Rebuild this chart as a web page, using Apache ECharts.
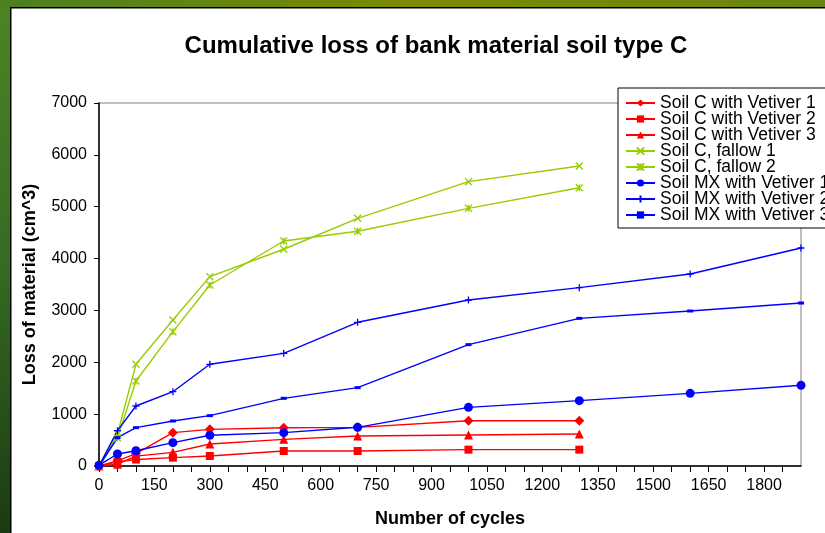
<!DOCTYPE html>
<html>
<head>
<meta charset="utf-8">
<script src="https://cdn.jsdelivr.net/npm/echarts@6/dist/echarts.min.js"></script>
<style>html,body{margin:0;padding:0;background:#fff}#c{width:825px;height:533px}</style>
</head>
<body>
<div id="c"></div>
<script>
const cycles = [0, 50, 100, 200, 300, 500, 700, 1000, 1300, 1600, 1900];
const seriesNames = ['Soil C with Vetiver 1','Soil C with Vetiver 2','Soil C with Vetiver 3','Soil C, fallow 1','Soil C, fallow 2','Soil MX with Vetiver 1','Soil MX with Vetiver 2','Soil MX with Vetiver 3'];
const cV1 = [0, 100, 240, 643, 707, 739, 745, 874, 874];
const cV2 = [0, 80, 125, 161, 193, 289, 289, 315, 315];
const cV3 = [0, 35, 190, 263, 424, 514, 578, 598, 617];
const fallow1 = [0, 620, 1961, 2815, 3651, 4180, 4776, 5483, 5785];
const fallow2 = [0, 540, 1639, 2590, 3490, 4339, 4526, 4969, 5366];
const mx1 = [15, 231, 295, 450, 592, 643, 746, 1131, 1260, 1401, 1556];
const mx2 = [0, 681, 1157, 1433, 1961, 2172, 2771, 3201, 3439, 3702, 4204];
const mx3 = [0, 546, 739, 868, 971, 1305, 1511, 2340, 2847, 2989, 3143];
const yTicks = {min: 0, max: 7000, interval: 1000};
const xTicks = {min: 0, max: 1900, interval: 50, labelEvery: 150};

const RED = '#FF0000', GREEN = '#99CC00', BLUE = '#0000FF';
const FONT = '"Liberation Sans", Arial, sans-serif';
function pairs(vals){ return vals.map((v,i)=>[cycles[i], v]); }

const styles = [
  {color: RED, symbol: 'diamond', size: 10},
  {color: RED, symbol: 'rect', size: 8},
  {color: RED, symbol: 'triangle', size: 9},
  {color: GREEN, symbol: 'path://M0,0L10,10M10,0L0,10', size: 7, stroke: true},
  {color: GREEN, symbol: 'path://M0,0L10,10M10,0L0,10M5,0L5,10', size: 7, stroke: true},
  {color: BLUE, symbol: 'circle', size: 9},
  {color: BLUE, symbol: 'path://M5,0L5,10M0,5L10,5', size: 7, stroke: true},
  {color: BLUE, symbol: 'path://M0,0L10,0L10,5L0,5Z', size: [6, 3]}
];
const data = [cV1, cV2, cV3, fallow1, fallow2, mx1, mx2, mx3];

const series = data.map((d, i) => {
  const s = styles[i];
  return {
    name: seriesNames[i],
    type: 'line',
    data: pairs(d),
    symbol: s.symbol,
    symbolSize: s.size,
    showAllSymbol: true,
    animation: false,
    lineStyle: {color: s.color, width: 1.4},
    itemStyle: s.stroke ? {color: s.color, borderColor: s.color, borderWidth: 1.3} : {color: s.color, borderWidth: 0}
  };
});

const chart = echarts.init(document.getElementById('c'));
chart.setOption({
  backgroundColor: '#ffffff',
  animation: false,
  title: {
    text: 'Cumulative loss of bank material soil type C',
    left: 431, top: 29, textAlign: 'center',
    textStyle: {fontFamily: FONT, fontSize: 24, fontWeight: 'bold', color: '#000'}
  },
  grid: {left: 99, top: 103, right: 24, bottom: 67, show: true, borderColor: '#808080', borderWidth: 1, backgroundColor: '#fff'},
  legend: {
    orient: 'vertical', left: 618, top: 88,
    padding: [6, 7, 4, 7], itemGap: -2, itemWidth: 29, itemHeight: 9,
    backgroundColor: '#fff', borderColor: '#000', borderWidth: 1,
    textStyle: {fontFamily: FONT, fontSize: 17.5, color: '#000'},
    data: seriesNames
  },
  xAxis: {
    type: 'value', min: xTicks.min, max: xTicks.max, interval: xTicks.interval,
    name: 'Number of cycles', nameLocation: 'middle', nameGap: 44,
    nameTextStyle: {fontFamily: FONT, fontSize: 18, fontWeight: 'bold', color: '#000'},
    axisLine: {show: true, onZero: false, lineStyle: {color: '#000', width: 1.5}},
    axisTick: {show: true, inside: false, length: 6, lineStyle: {color: '#000', width: 1}},
    axisLabel: {fontFamily: FONT, fontSize: 16, color: '#000', margin: 12, showMaxLabel: false,
      formatter: v => (v % xTicks.labelEvery === 0 ? String(v) : '')},
    splitLine: {show: false}
  },
  yAxis: {
    type: 'value', min: yTicks.min, max: yTicks.max, interval: yTicks.interval,
    name: 'Loss of material (cm^3)', nameLocation: 'middle', nameGap: 60, nameRotate: 90,
    nameTextStyle: {fontFamily: FONT, fontSize: 18, fontWeight: 'bold', color: '#000'},
    axisLine: {show: true, lineStyle: {color: '#000', width: 1.5}},
    axisTick: {show: true, inside: false, length: 5, lineStyle: {color: '#000', width: 1}},
    axisLabel: {fontFamily: FONT, fontSize: 16, color: '#000', margin: 12, formatter: v => String(v)},
    splitLine: {show: false}
  },
  graphic: [
    {type: 'rect', left: 0, top: 0, z: 100, shape: {x: 0, y: 0, width: 10, height: 533},
      style: {fill: new echarts.graphic.LinearGradient(0, 0, 0, 1, [{offset: 0, color: '#4e8424'}, {offset: 0.5, color: '#356b22'}, {offset: 1, color: '#1b3a12'}])}},
    {type: 'rect', left: 0, top: 0, z: 100, shape: {x: 0, y: 0, width: 825, height: 7},
      style: {fill: new echarts.graphic.LinearGradient(0, 0, 1, 0, [{offset: 0, color: '#4a7f22'}, {offset: 0.5, color: '#7c8a02'}, {offset: 1, color: '#6a8512'}])}},
    {type: 'line', z: 100, shape: {x1: 10.75, y1: 7, x2: 10.75, y2: 533}, style: {stroke: '#000', lineWidth: 1.5}},
    {type: 'line', z: 100, shape: {x1: 10, y1: 7.75, x2: 825, y2: 7.75}, style: {stroke: '#000', lineWidth: 1.5}}
  ],
  series: series
});
</script>
</body>
</html>
